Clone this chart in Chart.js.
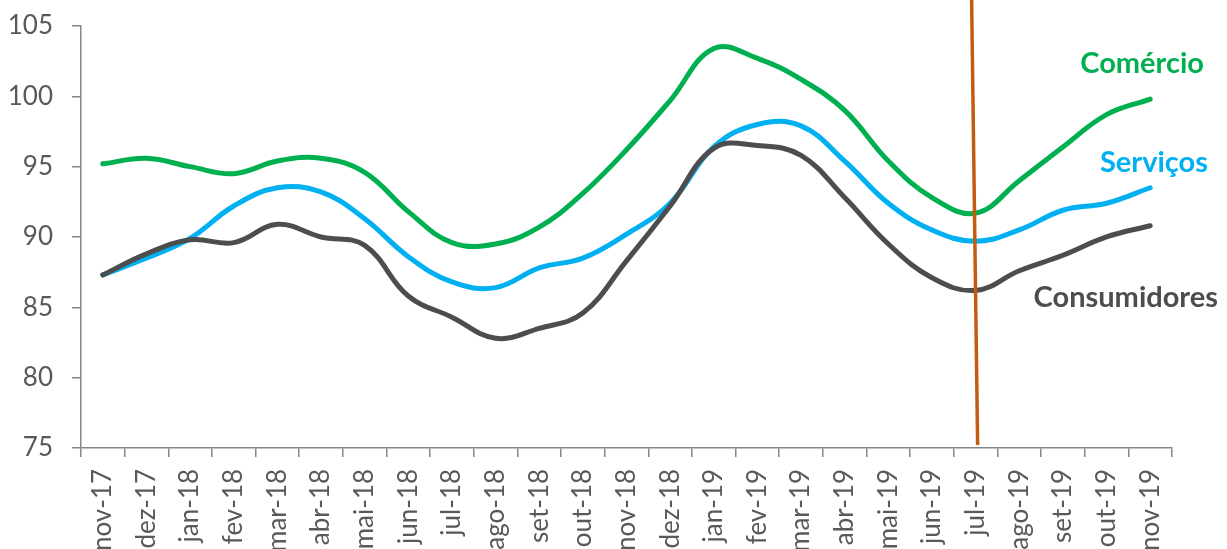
<!DOCTYPE html>
<html>
<head>
<meta charset="utf-8">
<script src="https://cdn.jsdelivr.net/npm/chart.js@4.4.1/dist/chart.umd.min.js"></script>
<style>
  html, body { margin: 0; padding: 0; background: #fff; overflow: hidden; }
  #wrap { position: relative; width: 1227px; height: 564px; }
</style>
</head>
<body>
<div id="wrap"><canvas id="chart"></canvas></div>
<script>
// months on the x axis
const months = ["nov-17","dez-17","jan-18","fev-18","mar-18","abr-18","mai-18","jun-18","jul-18","ago-18",
  "set-18","out-18","nov-18","dez-18","jan-19","fev-19","mar-19","abr-19","mai-19","jun-19","jul-19",
  "ago-19","set-19","out-19","nov-19"];

// confidence indices
const comercio = [95.2, 95.6, 95.0, 94.5, 95.4, 95.6, 94.6, 91.8, 89.6, 89.5, 90.7, 93.1, 96.2,
  99.7, 103.4, 102.7, 101.2, 99.0, 95.4, 92.8, 91.7, 94.0, 96.4, 98.7, 99.8];
const servicos = [87.3, 88.5, 89.9, 92.2, 93.5, 93.2, 91.3, 88.6, 86.8, 86.4, 87.8, 88.5, 90.2,
  92.4, 96.4, 98.0, 97.9, 95.4, 92.4, 90.5, 89.7, 90.5, 91.9, 92.4, 93.5];
const consumidores = [87.3, 88.8, 89.8, 89.6, 90.9, 90.0, 89.4, 85.8, 84.3, 82.8, 83.5, 84.6, 88.3,
  92.2, 96.3, 96.5, 95.8, 92.8, 89.5, 87.1, 86.2, 87.6, 88.7, 90.0, 90.8];

const yTicks = [75, 80, 85, 90, 95, 100, 105];
const markerMonth = "jul-19";

const GREEN = "#00B050", BLUE = "#00B0F0", DARK = "#4D4D4D", ORANGE = "#C55A11";

// vertical marker line + series names at the right
const extras = {
  id: "extras",
  afterDatasetsDraw(chart) {
    const ctx = chart.ctx, x = chart.scales.x, y = chart.scales.y;
    const mx = x.getPixelForValue(months.indexOf(markerMonth));
    ctx.save();
    ctx.strokeStyle = ORANGE;
    ctx.lineWidth = 3.5;
    ctx.beginPath();
    ctx.moveTo(mx - 4, 0);
    ctx.lineTo(mx + 2, y.getPixelForValue(75) - 3);
    ctx.stroke();

    ctx.font = "bold 29px Lato";
    ctx.textBaseline = "middle";
    ctx.textAlign = "right";
    const right = chart.chartArea.right;
    ctx.fillStyle = GREEN;
    ctx.fillText("Comércio", right + 32, y.getPixelForValue(102.35));
    ctx.fillStyle = BLUE;
    ctx.fillText("Serviços", right + 36, y.getPixelForValue(95.3));
    ctx.fillStyle = DARK;
    ctx.fillText("Consumidores", right + 46, y.getPixelForValue(85.7));
    ctx.restore();
  }
};

function series(label, data, color) {
  return {label, data, borderColor: color, backgroundColor: color, borderWidth: 5,
    pointRadius: 0, tension: 0.4, borderCapStyle: "round", fill: false};
}

new Chart(document.getElementById("chart"), {
  type: "line",
  data: {
    labels: months,
    datasets: [
      series("Consumidores", consumidores, DARK),
      series("Serviços", servicos, BLUE),
      series("Comércio", comercio, GREEN)
    ]
  },
  options: {
    responsive: true,
    maintainAspectRatio: false,
    animation: false,
    layout: {padding: {left: 0, right: 55, top: 26, bottom: 0}},
    plugins: {legend: {display: false}, tooltip: {enabled: false}},
    scales: {
      x: {
        offset: true,
        border: {color: "#868686", width: 1.5},
        grid: {display: true, drawOnChartArea: false, offset: true, color: "#868686", tickLength: 9, lineWidth: 1.5},
        ticks: {color: "#595959", font: {family: "Lato", size: 26}, minRotation: 90, maxRotation: 90, padding: 12, autoSkip: false}
      },
      y: {
        min: 75, max: 105,
        afterBuildTicks(axis) { axis.ticks = yTicks.map(v => ({value: v})); },
        afterFit(axis) { axis.width = 81; axis.paddingTop = 0; axis.paddingBottom = 0; },
        border: {color: "#868686", width: 1.5},
        grid: {display: true, drawOnChartArea: false, color: "#868686", tickLength: 9, lineWidth: 1.5},
        ticks: {color: "#595959", font: {family: "Lato", size: 26}, padding: 19}
      }
    }
  },
  plugins: [extras]
});
</script>
</body>
</html>
